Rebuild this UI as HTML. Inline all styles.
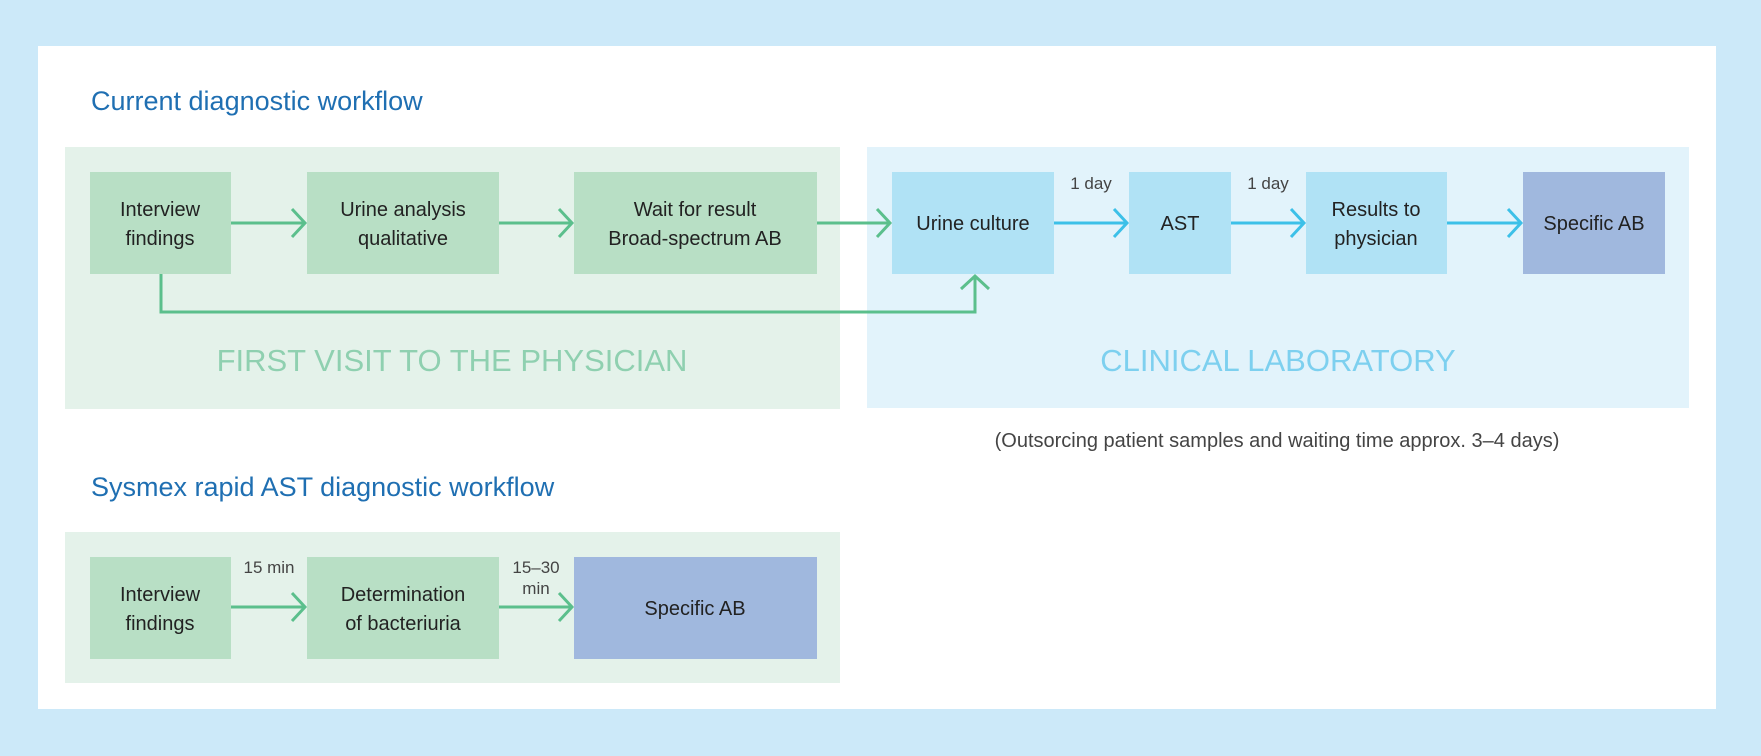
<!DOCTYPE html>
<html><head><meta charset="utf-8"><style>
html,body{margin:0;padding:0}
body{width:1761px;height:756px;background:#cce9f9;position:relative;overflow:hidden;font-family:"Liberation Sans",sans-serif}
svg{position:absolute;left:0;top:0}
</style></head><body>
<svg width="1761" height="756" viewBox="0 0 1761 756" font-family="Liberation Sans, sans-serif">
<rect x="38" y="46" width="1678" height="663" fill="#fff"/>
<text x="91" y="110" font-size="27" fill="#1f6fb2">Current diagnostic workflow</text>
<rect x="65" y="147" width="775" height="262" fill="#e4f2ea"/>
<rect x="867" y="147" width="822" height="261" fill="#e2f3fb"/>
<g fill="#b8dfc5">
<rect x="90" y="172" width="141" height="102"/>
<rect x="307" y="172" width="192" height="102"/>
<rect x="574" y="172" width="243" height="102"/>
</g>
<g fill="#b0e2f5">
<rect x="892" y="172" width="162" height="102"/>
<rect x="1129" y="172" width="102" height="102"/>
<rect x="1306" y="172" width="141" height="102"/>
</g>
<rect x="1523" y="172" width="142" height="102" fill="#a0b8de"/>
<g stroke="#5bbf8c" stroke-width="3" fill="none">
<path d="M231 223H304M292 209L305 223L292 237"/>
<path d="M499 223H571M559 209L572 223L559 237"/>
<path d="M817 223H889M877 209L890 223L877 237"/>
<path d="M161 274V312H975V277M961 289L975 276L989 289"/>
</g>
<g stroke="#3cc0e8" stroke-width="3" fill="none">
<path d="M1054 223H1126M1114 209L1127 223L1114 237"/>
<path d="M1231 223H1303M1291 209L1304 223L1291 237"/>
<path d="M1447 223H1520M1508 209L1521 223L1508 237"/>
</g>
<g font-size="20" fill="#222" text-anchor="middle">
<text x="160" y="216">Interview</text><text x="160" y="245">findings</text>
<text x="403" y="216">Urine analysis</text><text x="403" y="245">qualitative</text>
<text x="695" y="216">Wait for result</text><text x="695" y="245">Broad-spectrum AB</text>
<text x="973" y="230">Urine culture</text>
<text x="1180" y="230">AST</text>
<text x="1376" y="216">Results to</text><text x="1376" y="245">physician</text>
<text x="1594" y="230">Specific AB</text>
</g>
<g font-size="17" fill="#444" text-anchor="middle">
<text x="1091" y="189">1 day</text>
<text x="1268" y="189">1 day</text>
</g>
<text x="452" y="371" font-size="31" fill="#8fd0b0" text-anchor="middle">FIRST VISIT TO THE PHYSICIAN</text>
<text x="1278" y="371" font-size="31" fill="#7dd0ef" text-anchor="middle">CLINICAL LABORATORY</text>
<text x="1277" y="447" font-size="20" fill="#444" text-anchor="middle">(Outsorcing patient samples and waiting time approx. 3–4 days)</text>

<text x="91" y="496" font-size="27" fill="#1f6fb2">Sysmex rapid AST diagnostic workflow</text>
<rect x="65" y="532" width="775" height="151" fill="#e4f2ea"/>
<g fill="#b8dfc5">
<rect x="90" y="557" width="141" height="102"/>
<rect x="307" y="557" width="192" height="102"/>
</g>
<rect x="574" y="557" width="243" height="102" fill="#a0b8de"/>
<g stroke="#5bbf8c" stroke-width="3" fill="none">
<path d="M231 607H304M292 593L305 607L292 621"/>
<path d="M499 607H571M559 593L572 607L559 621"/>
</g>
<g font-size="20" fill="#222" text-anchor="middle">
<text x="160" y="601">Interview</text><text x="160" y="630">findings</text>
<text x="403" y="601">Determination</text><text x="403" y="630">of bacteriuria</text>
<text x="695" y="615">Specific AB</text>
</g>
<g font-size="17" fill="#444" text-anchor="middle">
<text x="269" y="573">15 min</text>
<text x="536" y="573">15–30</text>
<text x="536" y="594">min</text>
</g>
</svg>
</body></html>
